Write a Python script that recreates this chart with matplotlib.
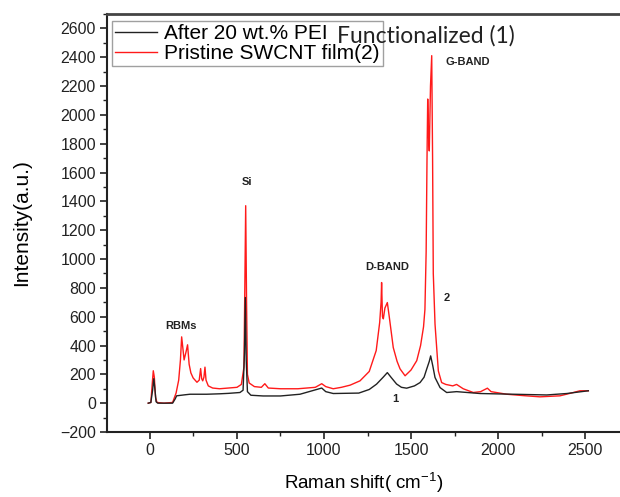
import matplotlib
matplotlib.use("Agg")
import matplotlib.pyplot as plt
from matplotlib.ticker import MultipleLocator

plt.rcParams['font.family'] = ['Liberation Sans', 'DejaVu Sans']
plt.rcParams['mathtext.default'] = 'regular'

# Pristine SWCNT film (2) - red
red_x = [-10, 5, 12, 19, 25, 32, 40, 80, 130, 150, 165, 175, 182, 190, 196, 208, 216, 225, 235, 248,
         270, 283, 291, 297, 303, 310, 316, 322, 335, 360, 400, 450, 500, 525, 540, 545, 550, 555, 560,
         570, 600, 640, 660, 680, 750, 850, 950, 987, 1010, 1053, 1100, 1150, 1207, 1260, 1300, 1320,
         1328, 1331, 1336, 1341, 1350, 1364, 1375, 1398, 1420, 1437, 1466, 1500, 1533, 1555, 1572, 1580,
         1587, 1592, 1596, 1601, 1605, 1612, 1619, 1624, 1628, 1638, 1657, 1676, 1700, 1740, 1762, 1800,
         1858, 1900, 1939, 1960, 2050, 2150, 2241, 2356, 2420, 2471, 2519]
red_y = [0, 5, 120, 225, 180, 40, 5, 0, 5, 70, 160, 300, 460, 370, 300, 360, 405, 270, 210, 175,
         145, 160, 240, 170, 155, 180, 250, 160, 120, 105, 100, 105, 110, 130, 250, 800, 1370, 700, 200,
         140, 115, 110, 135, 105, 100, 100, 110, 135, 115, 100, 110, 125, 155, 220, 365, 560,
         700, 837, 600, 585, 660, 698, 600, 386, 290, 238, 190, 230, 295, 400, 530, 650,
         1050, 1700, 2110, 1850, 1750, 2200, 2411, 1700, 900, 548, 224, 143, 130, 120, 130, 100,
         74, 80, 104, 80, 62, 52, 44, 51, 70, 86, 86]

# After 20 wt.% PEI functionalized (1) - black
blk_x = [-10, 5, 15, 22, 28, 35, 45, 130, 145, 153, 200, 230, 326, 400, 450, 517, 535, 543, 548, 553,
         560, 580, 650, 750, 862, 987, 1010, 1053, 1200, 1260, 1302, 1340, 1364, 1385, 1417, 1445, 1475,
         1520, 1552, 1575, 1590, 1605, 1613, 1625, 1638, 1667, 1705, 1762, 1897, 2088, 2280, 2395, 2519]
blk_y = [0, 5, 90, 170, 100, 10, 0, 0, 30, 51, 58, 62, 62, 65, 68, 74, 90, 350, 733, 300,
         80, 55, 50, 50, 62, 105, 80, 67, 70, 95, 132, 180, 212, 180, 133, 110, 104,
         120, 143, 180, 236, 290, 328, 260, 178, 108, 74, 80, 67, 62, 57, 67, 86]

labels = ['After 20 wt.% PEI', 'Pristine SWCNT film(2)']

W, H = 620, 497
fig = plt.figure(figsize=(W / 100, H / 100), dpi=100)
ax = fig.add_axes([107 / W, 1 - 432 / H, 1 - 107 / W, (432 - 14) / H])

ax.plot(blk_x, blk_y, color='#222222', lw=1.0, label=labels[0], zorder=3)
ax.plot(red_x, red_y, color='#ff1a1a', lw=1.0, label=labels[1], zorder=2)

ax.set_xlim(-247, 2701)
ax.set_ylim(-200, 2700)
ax.xaxis.set_major_locator(MultipleLocator(500))
ax.xaxis.set_minor_locator(MultipleLocator(250))
ax.yaxis.set_major_locator(MultipleLocator(200))
ax.yaxis.set_minor_locator(MultipleLocator(100))
ax.tick_params(axis='both', which='major', direction='out', length=5, width=1.2, labelsize=11.5,
               colors='#222222', pad=3)
ax.tick_params(axis='both', which='minor', direction='out', length=3, width=1.0, colors='#222222')
ax.spines['right'].set_visible(False)
ax.spines['top'].set_linewidth(2.0)
ax.spines['top'].set_color('#444444')
ax.spines['left'].set_linewidth(1.5)
ax.spines['bottom'].set_linewidth(1.5)
ax.spines['left'].set_color('#222222')
ax.spines['bottom'].set_color('#222222')

ax.set_xlabel('Raman shift( cm$^{-1}$)', fontsize=13.5)
ax.set_ylabel('Intensity(a.u.)', fontsize=15)
ax.xaxis.set_label_coords(0.5, -0.092)
ax.yaxis.set_label_coords(-0.148, 0.5)

leg = ax.legend(loc='upper left', bbox_to_anchor=(112 / W, 1 - 21 / H), bbox_transform=fig.transFigure,
                borderaxespad=0, fancybox=False, frameon=True, fontsize=15, handlelength=2.0,
                handletextpad=0.35, borderpad=0.15, labelspacing=0.05)
leg.get_frame().set_edgecolor('#888888')
leg.get_frame().set_linewidth(1.0)

fig.text(337 / W, 1 - 36 / H, 'Functionalized (1)', family=['Lato', 'DejaVu Sans'], fontsize=16.5,
         va='center', ha='left', color='#222222')

ann = dict(fontsize=8, fontweight='bold', ha='center', va='center', color='#222222')
ax.text(557, 1531, 'Si', **ann)
ax.text(181, 537, 'RBMs', **ann)
ax.text(1365, 942, 'D-BAND', **ann)
ax.text(1828, 2370, 'G-BAND', **ann)
ax.text(1705, 733, '2', **ann)
ax.text(1408, 28, '1', **ann)

fig.savefig('out.png', dpi=100)
